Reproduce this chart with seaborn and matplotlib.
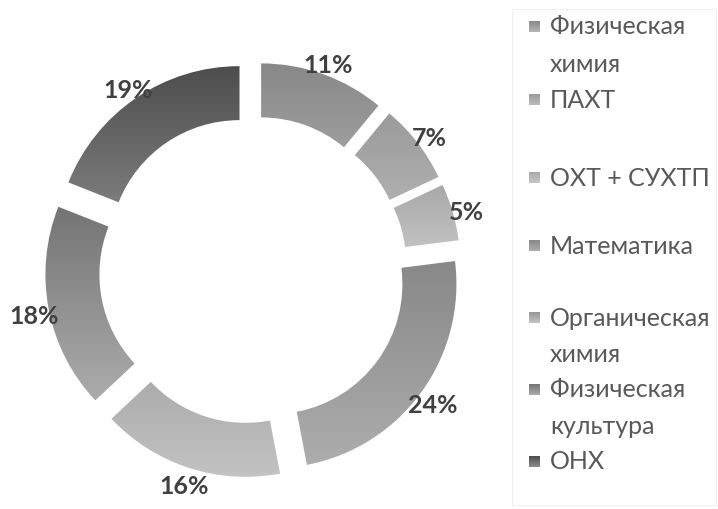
import numpy as np
import matplotlib
matplotlib.use("Agg")
import matplotlib.pyplot as plt
import seaborn as sns
from matplotlib.colors import LinearSegmentedColormap
from matplotlib.patches import Rectangle

# ---- data ----
categories = ["Физическая\nхимия", "ПАХТ", "ОХТ + СУХТП", "Математика",
              "Органическая\nхимия", "Физическая\nкультура", "ОНХ"]
shares = [11, 7, 5, 24, 16, 18, 19]

# ---- style ----
top_colors = ["#888888", "#9a9a9a", "#a8a8a8", "#888888", "#979797", "#747474", "#4d4d4d"]
bottom_colors = ["#b6b6b6", "#bdbdbd", "#c8c8c8", "#adadad", "#c3c3c3", "#acacac", "#8c8c8c"]

sns.set_theme(style="white")
plt.rcParams['font.family'] = ['Lato', 'Open Sans', 'DejaVu Sans']

W, H = 718, 510
fig = plt.figure(figsize=(W / 100, H / 100), dpi=100)
ax = fig.add_axes([0, 0, 1, 1])

cx, cy, R = 253, H - 271, 184
wedges, _, autotexts = ax.pie(
    shares, radius=R, center=(cx, cy), startangle=90, counterclock=False,
    explode=[24] * len(shares), wedgeprops=dict(width=54, linewidth=0),
    autopct=lambda p: f"{p:.0f}%", pctdistance=1.08,
    textprops=dict(fontsize=18, fontweight="bold", color="#404040"))

for w, ct, cb in zip(wedges, top_colors, bottom_colors):
    v = w.get_path().vertices
    x0, x1 = v[:, 0].min(), v[:, 0].max()
    y0, y1 = v[:, 1].min(), v[:, 1].max()
    cmap = LinearSegmentedColormap.from_list("g", [cb, ct])
    grad = np.linspace(0, 1, 256).reshape(-1, 1)
    im = ax.imshow(grad, cmap=cmap, extent=(x0, x1, y0, y1), origin="lower",
                   aspect="auto", interpolation="bilinear", zorder=1)
    im.set_clip_path(w)
    w.set_facecolor("none")

for t in autotexts:
    t.set_zorder(5)
    x, y = t.get_position()
    t.set_position((x, y - 4))

# ---- legend (manual, Excel-like spacing) ----
ax.add_patch(Rectangle((512, H - 506), 204, 496, facecolor="none",
                       edgecolor="#f0f0f0", linewidth=0.8, zorder=2))
entry_y = [27, 100, 178, 246, 318, 390, 462]
line_gap = 37
for lab, ypix, ct, cb in zip(categories, entry_y, top_colors, bottom_colors):
    ys = H - ypix
    cmap = LinearSegmentedColormap.from_list("g", [cb, ct])
    grad = np.linspace(0, 1, 64).reshape(-1, 1)
    ax.imshow(grad, cmap=cmap, extent=(529, 540, ys - 5.5, ys + 5.5), origin="lower",
              aspect="auto", zorder=3)
    for i, line in enumerate(lab.split("\n")):
        ax.text(550, ys - i * line_gap, line, fontsize=18, color="#595959",
                va="center", ha="left", zorder=4)

ax.set_xlim(0, W)
ax.set_ylim(0, H)
ax.set_aspect("auto")
ax.axis("off")
fig.savefig("out.png", dpi=100)
